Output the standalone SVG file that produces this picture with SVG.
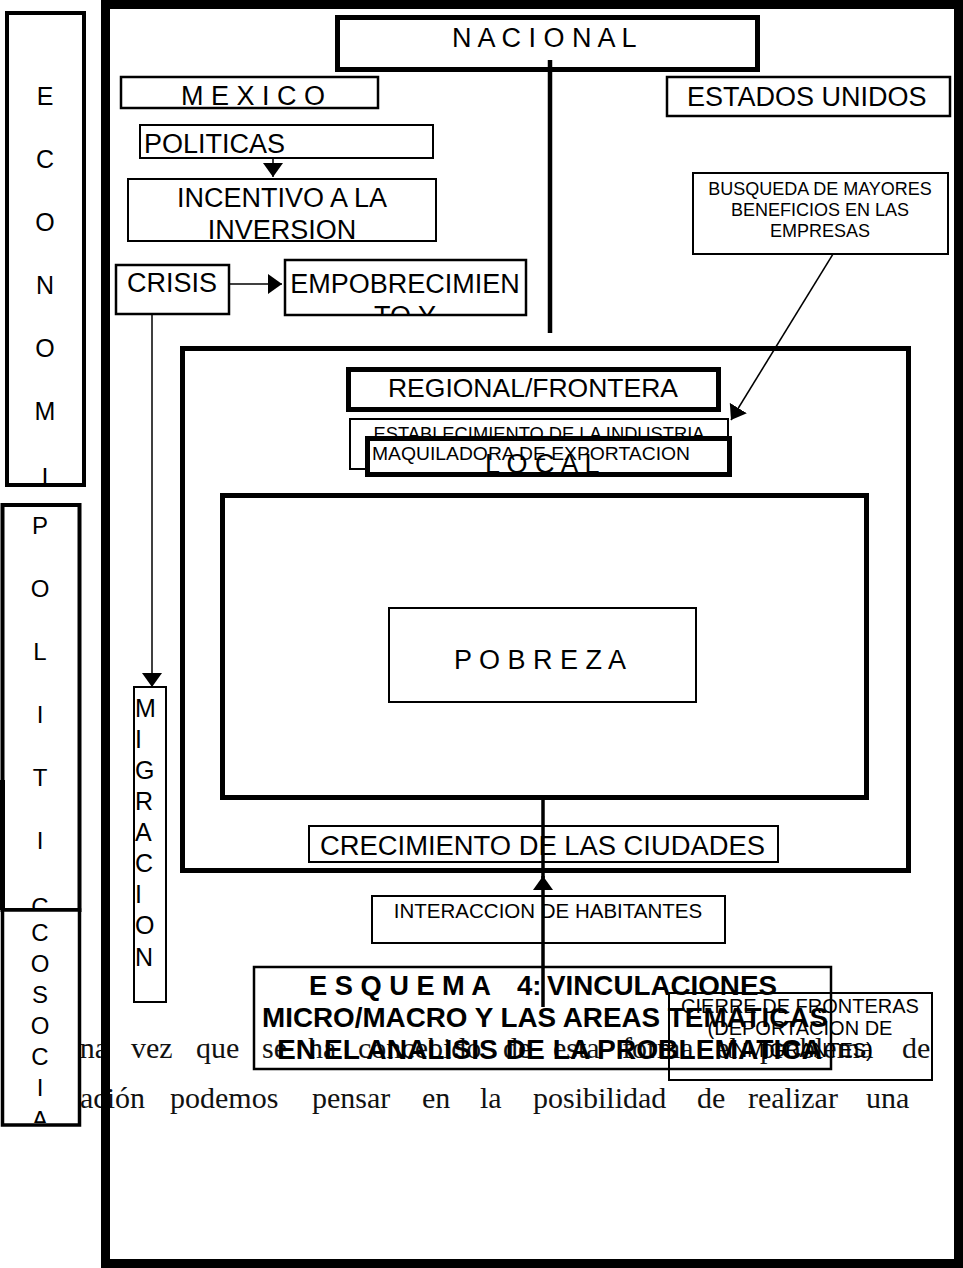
<svg xmlns="http://www.w3.org/2000/svg" width="963" height="1268" viewBox="0 0 963 1268">
<style>
.b{fill:none;stroke:#000}
.w{fill:#fff;stroke:#000}
.t{font-family:"Liberation Sans",Arial,sans-serif;fill:#000}
.tb{font-family:"Liberation Sans",Arial,sans-serif;font-weight:bold;fill:#000}
.s{font-family:"Liberation Serif","Times New Roman",serif;font-size:30px;fill:#111}
.c{stroke:#000;fill:none}
</style>
<defs>
<marker id="ah" viewBox="0 0 14 20" refX="14" refY="10" markerWidth="14" markerHeight="20" markerUnits="userSpaceOnUse" orient="auto"><path d="M0,0 L14,10 L0,20 Z" fill="#000"/></marker>
<clipPath id="cEco"><rect x="9" y="15" width="73" height="468"/></clipPath>
<clipPath id="cPol"><rect x="4" y="507" width="73" height="401"/></clipPath>
<clipPath id="cSoc"><rect x="4" y="912" width="73" height="211"/></clipPath>
<clipPath id="cInc"><rect x="129" y="180" width="306" height="60"/></clipPath>
<clipPath id="cEmp"><rect x="286" y="261" width="239" height="53"/></clipPath>
<clipPath id="cLoc"><rect x="370" y="441" width="357" height="31"/></clipPath>
</defs>
<rect width="963" height="1268" fill="#fff"/>

<g id="body-text" class="s">
<text y="1058"><tspan x="58">Una</tspan><tspan x="131">vez</tspan><tspan x="196">que</tspan><tspan x="262">se</tspan><tspan x="308">ha</tspan><tspan x="358">concebido</tspan><tspan x="503">de</tspan><tspan x="553">esta</tspan><tspan x="622">forma</tspan><tspan x="716">el</tspan><tspan x="760">problema</tspan><tspan x="902">de</tspan></text>
<text y="1108"><tspan x="80">ación</tspan><tspan x="170">podemos</tspan><tspan x="312">pensar</tspan><tspan x="422">en</tspan><tspan x="480">la</tspan><tspan x="533">posibilidad</tspan><tspan x="697">de</tspan><tspan x="748">realizar</tspan><tspan x="866">una</tspan></text>
</g>

<g id="frame"><rect class="b" x="105.5" y="4.5" width="853" height="1259" stroke-width="9"/></g>

<g id="economi">
<rect class="w" x="7" y="13" width="77" height="472" stroke-width="4"/>
<text class="t" font-size="25" text-anchor="middle" clip-path="url(#cEco)"><tspan x="45" y="105">E</tspan><tspan x="45" y="168">C</tspan><tspan x="45" y="231">O</tspan><tspan x="45" y="294">N</tspan><tspan x="45" y="357">O</tspan><tspan x="45" y="420">M</tspan><tspan x="45" y="486">I</tspan></text>
</g>

<g id="politic">
<rect class="w" x="2.5" y="505" width="77" height="405" stroke-width="4"/>
<rect x="0" y="780" width="5" height="130" fill="#000"/>
<text class="t" font-size="24" text-anchor="middle" clip-path="url(#cPol)"><tspan x="40" y="534">P</tspan><tspan x="40" y="597">O</tspan><tspan x="40" y="660">L</tspan><tspan x="40" y="723">I</tspan><tspan x="40" y="786">T</tspan><tspan x="40" y="849">I</tspan><tspan x="40" y="915">C</tspan></text>
</g>

<g id="socia">
<rect class="w" x="2.5" y="910" width="77" height="215" stroke-width="3.5"/>
<text class="t" font-size="24" text-anchor="middle" clip-path="url(#cSoc)"><tspan x="40" y="941">C</tspan><tspan x="40" y="972">O</tspan><tspan x="40" y="1003">S</tspan><tspan x="40" y="1034">O</tspan><tspan x="40" y="1065">C</tspan><tspan x="40" y="1096">I</tspan><tspan x="40" y="1128">A</tspan></text>
</g>

<g id="nacional">
<rect class="w" x="337.5" y="17.5" width="420" height="52" stroke-width="5"/>
<text class="t" font-size="27" x="452" y="47" xml:space="preserve">N A C I O N A L</text>
</g>

<g id="mexico">
<rect class="b" x="121" y="77" width="257" height="31" stroke-width="2.5"/>
<text class="t" font-size="27" x="181" y="105" xml:space="preserve">M E X I C O</text>
</g>

<g id="estados-unidos">
<rect class="b" x="667" y="77" width="283" height="39" stroke-width="2.5"/>
<text class="t" font-size="27" x="687" y="106">ESTADOS UNIDOS</text>
</g>

<g id="politicas">
<rect class="b" x="140" y="125" width="293" height="33" stroke-width="2"/>
<text class="t" font-size="27" x="144" y="153">POLITICAS</text>
</g>

<g id="incentivo">
<rect class="b" x="128" y="179" width="308" height="62" stroke-width="2"/>
<text class="t" font-size="27" text-anchor="middle" clip-path="url(#cInc)"><tspan x="282" y="207">INCENTIVO A LA</tspan><tspan x="282" y="239">INVERSION</tspan></text>
</g>

<g id="crisis">
<rect class="b" x="116" y="265" width="113" height="49" stroke-width="2.5"/>
<text class="t" font-size="27" x="127" y="292">CRISIS</text>
</g>

<g id="empobrecimiento">
<rect class="b" x="285" y="260" width="241" height="55" stroke-width="2.5"/>
<text class="t" font-size="27" text-anchor="middle" clip-path="url(#cEmp)"><tspan x="405" y="293">EMPOBRECIMIEN</tspan><tspan x="405" y="325">TO Y</tspan></text>
</g>

<g id="busqueda">
<rect class="b" x="693" y="173" width="255" height="81" stroke-width="2"/>
<text class="t" font-size="18" text-anchor="middle"><tspan x="820" y="195">BUSQUEDA DE MAYORES</tspan><tspan x="820" y="216">BENEFICIOS EN LAS</tspan><tspan x="820" y="237">EMPRESAS</tspan></text>
</g>

<g id="regional-frame"><rect class="b" x="182.5" y="348.5" width="726" height="522" stroke-width="5"/></g>

<g id="regional">
<rect class="b" x="348.5" y="369.5" width="370" height="40" stroke-width="5"/>
<text class="t" font-size="26.5" x="533" y="397" text-anchor="middle">REGIONAL/FRONTERA</text>
</g>

<g id="establecimiento">
<rect class="b" x="350" y="419" width="378" height="50" stroke-width="2"/>
<text class="t" font-size="19" x="539" y="440" text-anchor="middle" textLength="331" lengthAdjust="spacingAndGlyphs">ESTABLECIMIENTO DE LA INDUSTRIA</text>
</g>

<g id="local">
<rect class="w" x="367.5" y="438.5" width="362" height="36" stroke-width="5"/>
<text class="t" font-size="27" x="485" y="473" xml:space="preserve" clip-path="url(#cLoc)">L O C A L</text>
</g>

<g id="establecimiento-line2">
<text class="t" font-size="19" x="531" y="460" text-anchor="middle" textLength="318" lengthAdjust="spacingAndGlyphs">MAQUILADORA DE EXPORTACION</text>
</g>

<g id="local-container"><rect class="b" x="222.5" y="495.5" width="644" height="302" stroke-width="5"/></g>

<g id="pobreza">
<rect class="b" x="389" y="608" width="307" height="94" stroke-width="2"/>
<text class="t" font-size="27" x="454" y="669" xml:space="preserve">P O B R E Z A</text>
</g>

<g id="crecimiento">
<rect class="b" x="309" y="826" width="469" height="36" stroke-width="2"/>
<text class="t" font-size="27" x="320" y="855" textLength="445" lengthAdjust="spacingAndGlyphs">CRECIMIENTO DE LAS CIUDADES</text>
</g>

<g id="interaccion">
<rect class="b" x="372" y="896" width="353" height="47" stroke-width="2"/>
<text class="t" font-size="20.5" x="548" y="918" text-anchor="middle">INTERACCION DE HABITANTES</text>
</g>

<g id="migracion">
<rect class="b" x="134" y="687" width="32" height="315" stroke-width="2"/>
<text class="t" font-size="25"><tspan x="135" y="717">M</tspan><tspan x="135" y="748">I</tspan><tspan x="135" y="779">G</tspan><tspan x="135" y="810">R</tspan><tspan x="135" y="841">A</tspan><tspan x="135" y="872">C</tspan><tspan x="135" y="903">I</tspan><tspan x="135" y="934">O</tspan><tspan x="135" y="966">N</tspan></text>
</g>

<g id="esquema">
<rect class="b" x="254" y="967" width="577" height="102" stroke-width="2.5"/>
<text class="tb" font-size="27.5" y="995" xml:space="preserve"><tspan x="309" textLength="182" lengthAdjust="spacingAndGlyphs">E S Q U E M A</tspan><tspan x="517">4:</tspan><tspan x="547" textLength="230" lengthAdjust="spacingAndGlyphs">VINCULACIONES</tspan></text>
<text class="tb" font-size="27.5" x="262" y="1027" textLength="566" lengthAdjust="spacingAndGlyphs">MICRO/MACRO Y LAS AREAS TEMATICAS</text>
<text class="tb" font-size="27.5" x="277" y="1059" textLength="545" lengthAdjust="spacingAndGlyphs">EN EL ANALISIS DE LA PROBLEMATICA</text>
</g>

<g id="cierre">
<rect class="b" x="669" y="993" width="263" height="87" stroke-width="2"/>
<text class="t" font-size="20" text-anchor="middle"><tspan x="800" y="1013">CIERRE DE FRONTERAS</tspan><tspan x="800" y="1035">(DEPORTACION DE</tspan><tspan x="800" y="1057">INMIGRANTES)</tspan></text>
</g>

<g id="connectors">
<line class="c" x1="273" y1="158" x2="273" y2="177" stroke-width="1.5" marker-end="url(#ah)"/>
<line class="c" x1="230" y1="284" x2="282" y2="284" stroke-width="1.5" marker-end="url(#ah)"/>
<line class="c" x1="152" y1="314" x2="152" y2="687" stroke-width="1.5" marker-end="url(#ah)"/>
<line class="c" x1="833" y1="254" x2="731" y2="420" stroke-width="1.5" marker-end="url(#ah)"/>
<line class="c" x1="550" y1="60" x2="550" y2="333" stroke-width="4.5"/>
<line class="c" x1="543" y1="800" x2="543" y2="878" stroke-width="3.5"/>
<line class="c" x1="543" y1="1007" x2="543" y2="876" stroke-width="3.5" marker-end="url(#ah)"/>
</g>
</svg>
